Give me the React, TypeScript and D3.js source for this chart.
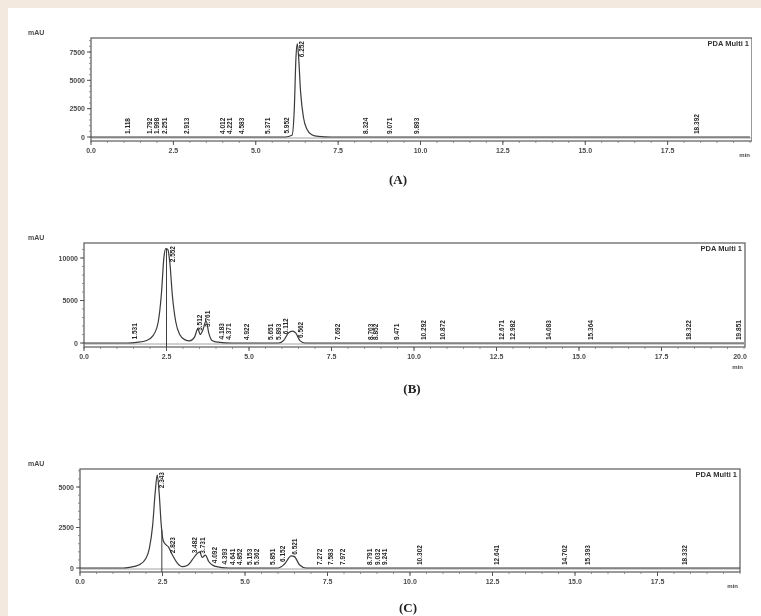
import { useMemo } from 'react';
import * as d3 from 'd3';

// retention time (min), absorbance (mAU)
const TRACE_A: [number, number][] = [
  [0, 0], [5.9, 0], [6.1, 150], [6.17, 2500], [6.22, 7000], [6.26, 8250], [6.3, 7100],
  [6.36, 4000], [6.45, 1700], [6.55, 700], [6.7, 200], [6.9, 50], [7.3, 0], [20, 0],
];
const TRACE_B: [number, number][] = [
  [0, 0], [1.3, 0], [1.6, 80], [1.9, 300], [2.1, 900], [2.25, 2500], [2.35, 6000],
  [2.42, 10000], [2.48, 11100], [2.54, 11000], [2.6, 9500], [2.68, 5500], [2.78, 2500],
  [2.9, 1000], [3.05, 400], [3.2, 250], [3.35, 700], [3.45, 1700], [3.52, 1000],
  [3.6, 1500], [3.7, 2600], [3.78, 1200], [3.88, 300], [4.05, 100], [4.5, 0],
  [5.9, 0], [6.05, 300], [6.2, 1200], [6.32, 1400], [6.42, 1150], [6.55, 250], [6.7, 0], [20, 0],
];
const TRACE_C: [number, number][] = [
  [0, 0], [1.3, 0], [1.5, 40], [1.8, 200], [2.0, 600], [2.1, 1200], [2.2, 2600],
  [2.28, 4700], [2.34, 5750], [2.4, 4600], [2.46, 2700], [2.52, 1700], [2.6, 1450],
  [2.68, 1300], [2.8, 800], [2.95, 300], [3.1, 80], [3.25, 150], [3.4, 500],
  [3.55, 900], [3.63, 1000], [3.7, 650], [3.8, 800], [3.9, 400], [4.1, 100], [4.5, 0],
  [6.0, 0], [6.2, 250], [6.4, 750], [6.5, 700], [6.65, 200], [6.85, 0], [20, 0],
];

// labelled peaks (retention times)
const LABELS_A = [1.118, 1.792, 1.998, 2.251, 2.913, 4.012, 4.221, 4.583, 5.371, 5.952, 6.252, 8.324, 9.071, 9.893, 18.392];
const LABELS_B = [1.531, 2.552, 3.512, 3.761, 4.183, 4.371, 4.922, 5.651, 5.893, 6.112, 6.562, 7.692, 8.703, 8.852, 9.471, 10.292, 10.872, 12.671, 12.982, 14.083, 15.364, 18.322, 19.851];
const LABELS_C = [2.343, 2.823, 3.482, 3.731, 4.092, 4.393, 4.641, 4.852, 5.153, 5.362, 5.851, 6.152, 6.521, 7.272, 7.583, 7.972, 8.791, 9.032, 9.241, 10.302, 12.641, 14.702, 15.393, 18.332];

const MARKERS_B = [2.5];
const MARKERS_C = [2.48];

const TIME_TICKS = [0, 2.5, 5, 7.5, 10, 12.5, 15, 17.5];
const TICKS_A = [0, 2500, 5000, 7500];
const TICKS_B = [0, 5000, 10000];
const TICKS_C = [0, 2500, 5000];

const INK = '#4a4a4a';
const FONT = 'Liberation Sans, Arial, sans-serif';

type Panel = {
  trace: [number, number][];
  labels: number[];
  markers: number[];
  yTicks: number[];
  yTop: number; // value at yPx[1]
  xPx: [number, number];
  yPx: [number, number];
  frameTop: number;
  frameBottom: number;
  frameRight: number;
  caption: string;
  capX: number;
  capY: number;
  endLabel: boolean;
};

const PANELS: Panel[] = [
  {
    trace: TRACE_A, labels: LABELS_A, markers: [], yTicks: TICKS_A, yTop: 7500,
    xPx: [91, 750], yPx: [137, 52], frameTop: 38, frameBottom: 141, frameRight: 752,
    caption: '(A)', capX: 398, capY: 184, endLabel: false,
  },
  {
    trace: TRACE_B, labels: LABELS_B, markers: MARKERS_B, yTicks: TICKS_B, yTop: 10000,
    xPx: [84, 744], yPx: [343, 258], frameTop: 243, frameBottom: 347, frameRight: 745,
    caption: '(B)', capX: 412, capY: 393, endLabel: true,
  },
  {
    trace: TRACE_C, labels: LABELS_C, markers: MARKERS_C, yTicks: TICKS_C, yTop: 5000,
    xPx: [80, 740], yPx: [568, 487], frameTop: 469, frameBottom: 572, frameRight: 740,
    caption: '(C)', capX: 408, capY: 612, endLabel: false,
  },
];

function Chromatogram({ p, idx }: { p: Panel; idx: number }) {
  const x = d3.scaleLinear().domain([0, 20]).range(p.xPx);
  const y = d3.scaleLinear().domain([0, p.yTop]).range(p.yPx);
  const left = p.xPx[0];

  const line = d3.line<[number, number]>()
    .x(d => x(d[0]))
    .y(d => y(d[1]))
    .curve(d3.curveMonotoneX);

  const signalAt = (t: number) => {
    const tr = p.trace;
    const i = d3.bisector((d: [number, number]) => d[0]).left(tr, t);
    if (i <= 0) return tr[0][1];
    if (i >= tr.length) return tr[tr.length - 1][1];
    const [t0, v0] = tr[i - 1];
    const [t1, v1] = tr[i];
    return v0 + ((t - t0) / (t1 - t0)) * (v1 - v0);
  };

  const minorX = d3.range(0, 20.01, 0.5);
  const step = p.yTicks[1] - p.yTicks[0];
  const minorY = d3.range(0, p.yTop + step * 0.5, step / 5).filter(v => y(v) > p.frameTop);
  const fmt = d3.format('.3f');
  const labelFs = 6.5;
  const clipId = `clip-${idx}`;

  return (
    <g>
      <clipPath id={clipId}>
        <rect x={left} y={p.frameTop} width={p.frameRight - left} height={p.frameBottom - p.frameTop} />
      </clipPath>
      {/* frame */}
      <rect x={left} y={p.frameTop} width={p.frameRight - left} height={p.frameBottom - p.frameTop}
        fill="none" stroke="#666" strokeWidth={1.3} />
      {/* y axis ticks */}
      {minorY.map((v, i) => (
        <line key={`my${i}`} x1={left - 2} x2={left} y1={y(v)} y2={y(v)} stroke="#777" strokeWidth={0.8} />
      ))}
      {p.yTicks.map(v => (
        <g key={`y${v}`}>
          <line x1={left - 4} x2={left} y1={y(v)} y2={y(v)} stroke="#555" />
          <text x={left - 6} y={y(v) + 2.5} textAnchor="end" fontSize={7} fontWeight="bold" fill={INK} fontFamily={FONT}>{v}</text>
        </g>
      ))}
      <text x={28} y={p.frameTop - 3} fontSize={7} fontWeight="bold" fill={INK} fontFamily={FONT}>mAU</text>
      {/* x axis ticks */}
      {minorX.map((t, i) => (
        <line key={`mx${i}`} x1={x(t)} x2={x(t)} y1={p.frameBottom} y2={p.frameBottom + 2} stroke="#777" strokeWidth={0.8} />
      ))}
      {TIME_TICKS.map(t => (
        <g key={`x${t}`}>
          <line x1={x(t)} x2={x(t)} y1={p.frameBottom} y2={p.frameBottom + 4} stroke="#555" />
          <text x={x(t)} y={p.frameBottom + 12} textAnchor="middle" fontSize={7} fontWeight="bold" fill={INK} fontFamily={FONT}>{t.toFixed(1)}</text>
        </g>
      ))}
      {p.endLabel && (
        <text x={x(20) - 4} y={p.frameBottom + 12} textAnchor="middle" fontSize={7} fontWeight="bold" fill={INK} fontFamily={FONT}>20.0</text>
      )}
      <text x={p.frameRight - 2} y={p.frameBottom + (p.endLabel ? 22 : 16)} textAnchor="end" fontSize={6} fontWeight="bold" fill={INK} fontFamily={FONT}>min</text>
      <text x={p.frameRight - 3} y={p.frameTop + 8} textAnchor="end" fontSize={7.5} fontWeight="bold" fill="#333" fontFamily={FONT}>PDA Multi 1</text>
      {/* trace */}
      <g clipPath={`url(#${clipId})`}>
        <line x1={left} x2={p.frameRight} y1={y(0) + 1} y2={y(0) + 1} stroke="#8a8a8a" strokeWidth={0.8} />
        <path d={line(p.trace) || ''} fill="none" stroke="#3a3a3a" strokeWidth={1.2} />
        {p.markers.map(t => (
          <line key={`m${t}`} x1={x(t)} x2={x(t)} y1={y(signalAt(t))} y2={p.frameBottom} stroke="#3f3f3f" strokeWidth={1} />
        ))}
      </g>
      {/* peak labels */}
      {p.labels.map(t => {
        const txt = fmt(t);
        const len = txt.length * labelFs * 0.56;
        const base = y(signalAt(t)) - 3;
        const clamped = base - len < p.frameTop + 2;
        const px = clamped ? x(t) + 7 : x(t) + labelFs * 0.35;
        const py = clamped ? p.frameTop + 3 : base;
        return (
          <text key={`l${t}`} transform={`translate(${px},${py}) rotate(-90)`}
            textAnchor={clamped ? 'end' : 'start'} fontSize={labelFs} fontWeight="bold"
            fill="#262626" fontFamily={FONT}>{txt}</text>
        );
      })}
      <text x={p.capX} y={p.capY} textAnchor="middle" fontSize={13} fontWeight="bold" fill="#222"
        fontFamily="Liberation Serif, serif">{p.caption}</text>
    </g>
  );
}

export default function App() {
  const panels = useMemo(() => PANELS, []);
  return (
    <svg width={761} height={616} style={{ position: 'fixed', left: 0, top: 0 }}>
      <defs>
        <filter id="soft" x="0" y="0" width="1" height="1">
          <feGaussianBlur stdDeviation={0.4} />
        </filter>
      </defs>
      <rect x={0} y={0} width={761} height={616} fill="#f3e9de" />
      <rect x={8} y={8} width={753} height={608} fill="#ffffff" />
      <g filter="url(#soft)">
        {panels.map((p, i) => <Chromatogram key={p.caption} p={p} idx={i} />)}
      </g>
    </svg>
  );
}
